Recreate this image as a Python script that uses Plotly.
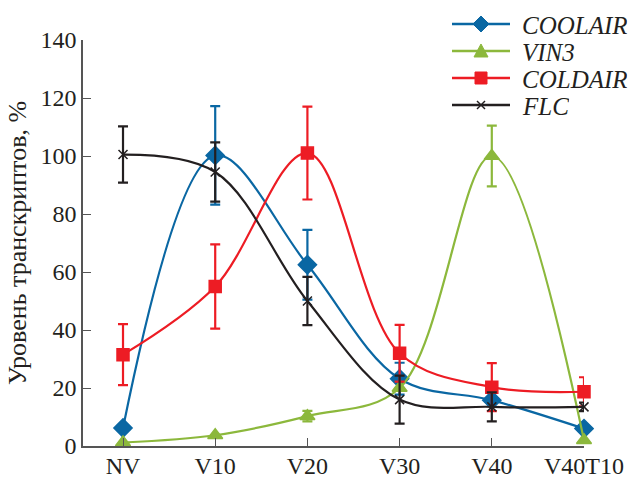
import plotly.graph_objects as go

categories = ["NV", "V10", "V20", "V30", "V40", "V40T10"]

coolair = [6.2, 100.2, 62.5, 23.2, 15.8, 6.0]
coolair_err = [0, 17.0, 12.0, 5.5, 0, 0]

vin3 = [1.2, 3.7, 10.3, 20.0, 100.0, 2.0]
vin3_err = [0, 0, 1.8, 0, 10.5, 0]

coldair = [31.5, 55.0, 101.0, 32.0, 20.3, 18.7]
coldair_err = [10.5, 14.5, 16.0, 9.8, 8.3, 5.0]

flc = [100.5, 94.5, 50.0, 16.0, 13.5, 13.5]
flc_err = [9.7, 10.2, 8.3, 8.3, 5.0, 1.5]

series = [
    ("COOLAIR", coolair, coolair_err, "#0a67a3", "diamond", 14),
    ("VIN3", vin3, vin3_err, "#8cb83c", "triangle-up", 13),
    ("COLDAIR", coldair, coldair_err, "#ed1c24", "square", 12),
    ("FLC", flc, flc_err, "#231f20", "x-thin-open", 9),
]

W, H = 636, 478
ML, MR, MT, MB = 83, 52, 40, 32
PW, PH = W - ML - MR, H - MT - MB


def px(x):
    return (x - ML) / PW


def py(y):
    return (H - MB - y) / PH


fig = go.Figure()
for name, vals, err, color, sym, size in series:
    fig.add_trace(go.Scatter(
        x=list(range(len(categories))), y=vals, name=name,
        mode="lines+markers", cliponaxis=False, showlegend=False,
        line=dict(color=color, width=2.2, shape="spline", smoothing=1.0),
        marker=dict(symbol=sym, size=size, color=color,
                    line=dict(color=color, width=1.5)),
        error_y=dict(type="data", array=err, visible=True, color=color,
                     thickness=2.2, width=5),
    ))

# Legend (drawn as decoration in pixel space)
font_serif = "Liberation Serif, Times New Roman, serif"
row_y = [24, 51, 78, 105]
shapes = []
annotations = []


def path(points):
    return "M" + " L".join(f"{px(a):.5f},{py(b):.5f}" for a, b in points) + " Z"


for (name, vals, err, color, sym, size), ry in zip(series, row_y):
    shapes.append(dict(type="line", xref="paper", yref="paper",
                       x0=px(452), x1=px(510), y0=py(ry), y1=py(ry),
                       line=dict(color=color, width=2.5), layer="above"))
    cx = 481
    if sym == "diamond":
        pts = [(cx - 8, ry), (cx, ry - 8), (cx + 8, ry), (cx, ry + 8)]
        shapes.append(dict(type="path", xref="paper", yref="paper", path=path(pts),
                           fillcolor=color, line=dict(color=color, width=1)))
    elif sym == "triangle-up":
        pts = [(cx - 7, ry + 6), (cx, ry - 7), (cx + 7, ry + 6)]
        shapes.append(dict(type="path", xref="paper", yref="paper", path=path(pts),
                           fillcolor=color, line=dict(color=color, width=1)))
    elif sym == "square":
        pts = [(cx - 6, ry - 6), (cx + 6, ry - 6), (cx + 6, ry + 6), (cx - 6, ry + 6)]
        shapes.append(dict(type="path", xref="paper", yref="paper", path=path(pts),
                           fillcolor=color, line=dict(color=color, width=1)))
    else:
        for dx in (-1, 1):
            shapes.append(dict(type="line", xref="paper", yref="paper",
                               x0=px(cx - 4), x1=px(cx + 4),
                               y0=py(ry - 4 * dx), y1=py(ry + 4 * dx),
                               line=dict(color=color, width=1.5)))
    annotations.append(dict(text=name, xref="paper", yref="paper",
                            x=px(520), y=py(ry + 1), xanchor="left", yanchor="middle",
                            showarrow=False, height=26,
                            font=dict(family=font_serif, size=25, style="italic",
                                      color="#231f20")))

fig.update_layout(
    width=W, height=H,
    margin=dict(l=ML, r=MR, t=MT, b=MB, autoexpand=False),
    paper_bgcolor="white", plot_bgcolor="white",
    font=dict(family=font_serif, size=24, color="#231f20"),
    showlegend=False,
    shapes=shapes,
    annotations=annotations,
    xaxis=dict(
        tickmode="array", tickvals=list(range(len(categories))),
        ticktext=categories, range=[-0.434, 5.0],
        showline=True, linecolor="#555", linewidth=1.5,
        ticks="inside", ticklen=8, tickcolor="#555",
        showgrid=False, zeroline=False,
        tickfont=dict(size=24), ticklabelstandoff=-3,
    ),
    yaxis=dict(
        range=[0, 140], dtick=20,
        showline=True, linecolor="#555", linewidth=1.5,
        ticks="inside", ticklen=8, tickcolor="#555",
        showgrid=False, zeroline=False,
        tickfont=dict(size=24),
        title=dict(text="Уровень транскриптов, %", font=dict(size=26), standoff=6),
    ),
)

fig.write_html("out.html", config={"displayModeBar": False},
               post_script="document.body.style.margin='0px';")
